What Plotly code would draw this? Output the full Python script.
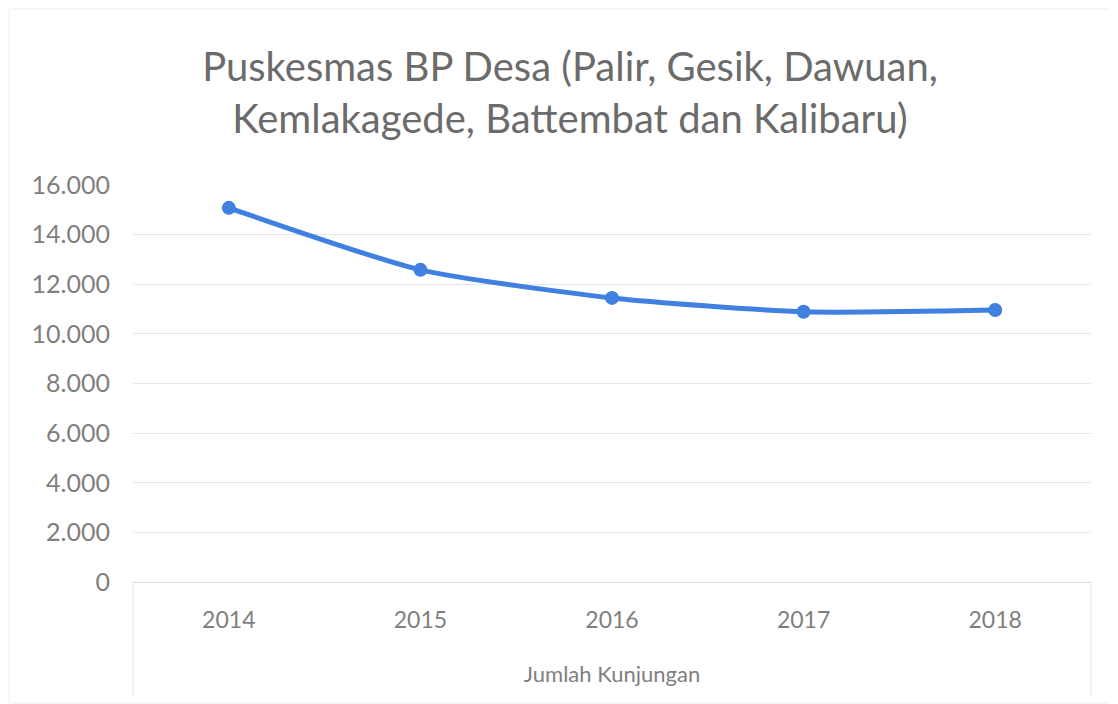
import plotly.graph_objects as go

years = ["2014", "2015", "2016", "2017", "2018"]
axis_title = "Jumlah Kunjungan"
visits = [15080, 12580, 11450, 10890, 10960]
y_ticks = [0, 2000, 4000, 6000, 8000, 10000, 12000, 14000, 16000]

title_text = "Puskesmas BP Desa (Palir, Gesik, Dawuan,<br>Kemlakagede, Battembat dan Kalibaru)"

# page body has an 8px margin; figure sized to fill the rest of the window
OFF = 8
W, H = 1118 - OFF, 704 - OFF
L, R, T, B = 133 - OFF, 27, 185 - OFF, 122
PW, PH = W - L - R, H - T - B

def px_x(x):
    return (x - OFF - L) / PW

def px_y(y):
    return (H - B - (y - OFF)) / PH

font_family = "Lato, 'Open Sans', sans-serif"
title_color = "#6b6b6b"
tick_color = "#7f7f7f"
line_color = "#3f80e0"
box_color = "#e3e3e3"

fig = go.Figure()
fig.add_trace(go.Scatter(
    x=years,
    y=visits,
    mode="lines+markers",
    line=dict(color=line_color, width=5, shape="spline", smoothing=0.6),
    marker=dict(color=line_color, size=14),
    showlegend=False,
    hoverinfo="y",
))

shapes = [
    # category axis box
    dict(type="line", xref="paper", yref="paper", x0=0, x1=0, y0=0, y1=px_y(695),
         line=dict(color=box_color, width=1)),
    dict(type="line", xref="paper", yref="paper", x0=1, x1=1, y0=0, y1=px_y(695),
         line=dict(color=box_color, width=1)),
    # outer chart border
    dict(type="rect", xref="paper", yref="paper", x0=px_x(9), x1=px_x(1116),
         y0=px_y(703), y1=px_y(9), line=dict(color="#ececec", width=1)),
]

fig.update_layout(
    width=W,
    height=H,
    paper_bgcolor="white",
    plot_bgcolor="white",
    separators=",.",
    margin=dict(l=L, r=R, t=T, b=B),
    shapes=shapes,
    title=dict(
        text=title_text,
        x=(570 - OFF) / W,
        xanchor="center",
        y=1 - 73 / H,
        yanchor="top",
        font=dict(family=font_family, size=40, color=title_color),
    ),
    font=dict(family=font_family, color=tick_color),
    xaxis=dict(
        type="category",
        range=[-0.5, 4.5],
        automargin=False,
        showgrid=False,
        showline=True,
        linecolor="#d9d9d9",
        linewidth=1,
        ticks="",
        ticklabelstandoff=17,
        tickfont=dict(family=font_family, size=23, color=tick_color),
        title=dict(text=axis_title, standoff=35,
                   font=dict(family=font_family, size=22, color=tick_color)),
    ),
    yaxis=dict(
        range=[0, 16000],
        tickvals=y_ticks,
        tickformat=",d",
        automargin=False,
        showgrid=True,
        gridcolor="#e6e6e6",
        gridwidth=1,
        zeroline=False,
        showline=False,
        ticks="",
        ticklabelstandoff=22,
        tickfont=dict(family=font_family, size=25, color=tick_color),
    ),
)

fig.write_html("out.html")
